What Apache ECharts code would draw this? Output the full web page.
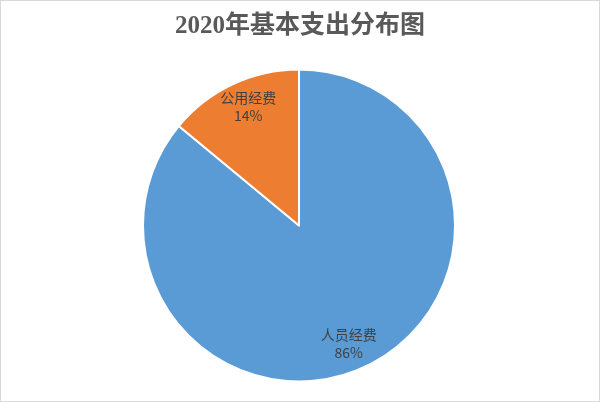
<!DOCTYPE html>
<html>
<head>
<meta charset="utf-8">
<script src="https://cdn.jsdelivr.net/npm/echarts@6/dist/echarts.min.js"></script>
<style>
html,body{margin:0;padding:0;background:#fff;}
#chart{width:600px;height:402px;box-sizing:border-box;border:1px solid #d9d9d9;}
</style>
</head>
<body>
<div id="chart"></div>
<script>
const titleText = '2020年基本支出分布图';
const categories = ['人员经费', '公用经费'];
const values = [86, 14];
const colors = ['#5B9BD5', '#ED7D31'];

const pieData = categories.map((c, i) => ({ name: c, value: values[i], itemStyle: { color: colors[i] } }));

const chart = echarts.init(document.getElementById('chart'));
chart.setOption({
  animation: false,
  title: {
    text: titleText,
    left: 'center',
    top: 8,
    textStyle: { fontFamily: "'Liberation Serif', 'Noto Sans CJK SC'", fontSize: 25, fontWeight: 'bold', color: '#595959' }
  },
  series: [
    {
      type: 'pie',
      center: [298, 224.5],
      radius: [0, 156],
      startAngle: 90,
      clockwise: true,
      silent: true,
      label: { show: false },
      labelLine: { show: false },
      itemStyle: { borderColor: '#ffffff', borderWidth: 2 },
      data: pieData
    },
    {
      type: 'pie',
      center: [298, 224.5],
      radius: [100, 156],
      startAngle: 90,
      clockwise: true,
      silent: true,
      percentPrecision: 0,
      itemStyle: { color: 'rgba(0,0,0,0)' },
      label: {
        show: true,
        position: 'inside',
        formatter: '{b}\n{d}%',
        fontFamily: 'Noto Sans CJK SC',
        fontSize: 14,
        lineHeight: 18,
        color: '#404040'
      },
      labelLine: { show: false },
      data: categories.map((c, i) => ({
        name: c,
        value: values[i],
        label: i === 0 ? { padding: [0, 12, 0, 0] } : { padding: [0, 0, 0, 10] }
      }))
    }
  ]
});
</script>
</body>
</html>
